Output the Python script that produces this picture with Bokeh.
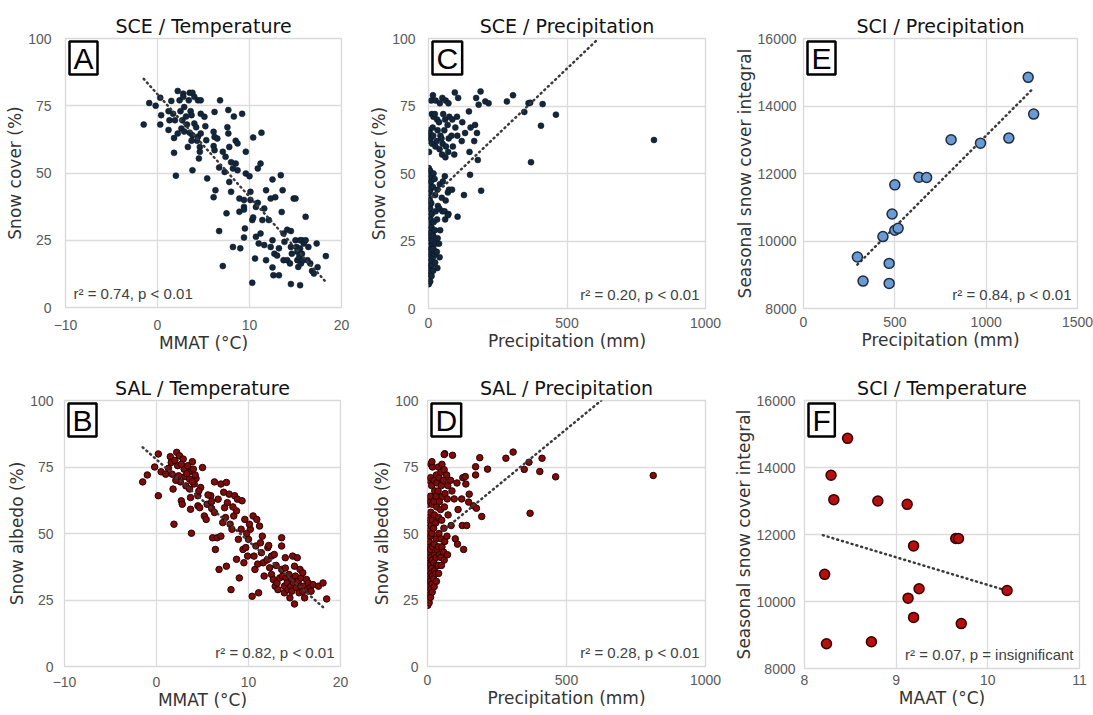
from bokeh.plotting import figure
from bokeh.layouts import row, column
from bokeh.models import Label, FixedTicker, Range1d
from bokeh.embed import file_html
from bokeh.resources import INLINE

# ---------------- DATA ----------------
# Panel A: SCE vs MMAT
mmat_a = [-1.5, -0.9, -0.2, 0.3, 0.4, 0.3, 1.2, 1.3, 1.2, 1.5, 1.7, 1.9, 1.8, 1.8, 2.0, 2.2, 2.4, 2.5, 2.7, 2.6,
          2.8, 2.8, 2.9, 3.1, 3.2, 3.4, 3.5, 3.6, 3.7, 3.5, 3.8, 3.7, 3.8, 3.8, 4.0, 4.4, 4.0, 4.2, 4.4, 4.3,
          4.7, 4.7, 4.7, 4.6, 4.6, 4.5, 5.1, 5.2, 5.3, 5.4, 6.2, 6.1, 6.2, 6.1, 6.2, 6.3, 6.1, 6.8, 6.7, 6.7,
          7.1, 7.3, 7.5, 7.6, 7.7, 7.7, 7.8, 7.8, 8.0, 8.2, 7.1, 8.3, 8.5, 8.7, 8.5, 8.7, 8.9, 8.9, 9.0, 9.2,
          9.4, 9.4, 9.5, 9.4, 9.6, 9.6, 10.0, 10.1, 10.3, 10.4, 10.4, 10.3, 10.6, 10.7, 10.9, 10.9, 11.0, 11.2, 11.2, 11.3,
          11.4, 11.6, 11.6, 11.8, 11.8, 12.1, 12.3, 12.3, 12.5, 12.5, 12.5, 12.6, 12.7, 13.0, 12.8, 13.2, 13.2, 13.4, 13.5, 13.6,
          13.7, 13.7, 13.8, 14.1, 14.1, 14.5, 14.5, 14.4, 14.5, 14.6, 14.8, 15.0, 15.0, 15.1, 15.2, 15.2, 15.3, 15.4, 15.5, 15.5,
          15.6, 15.5, 15.7, 15.7, 15.8, 15.9, 16.1, 16.1, 16.3, 16.4, 16.6, 16.8, 17.0, 17.3, 18.3, 17.4, 6.5, 7.4, 8.0, 10.7,
          10.1, 8.2, 9.4, 2.9, 2.2, 3.3]
sce_a = [68, 76, 75, 78, 71.5, 68, 73, 69.6, 66, 76.8, 72, 69.6, 63, 57.5, 49, 80.5, 77, 73, 69.6, 66.5,
         79.5, 78.3, 74.5, 71, 68, 77, 79.8, 73, 71.5, 65, 64, 62, 51, 79.8, 78.3, 77, 68.4, 67, 63.5, 62,
         77, 72, 64.7, 59.7, 57.9, 55.4, 70.9, 67.4, 62.2, 48, 72.7, 65.3, 63.4, 60, 58.5, 43.6, 41, 77, 52, 28.4,
         57.9, 50.4, 35, 67, 73.4, 64.7, 59.7, 46.7, 43, 22.5, 15.4, 71, 53.5, 51, 62, 61, 40.5, 35.6, 22, 72,
         37.4, 36.4, 29.4, 26, 57.9, 49.8, 48.8, 40, 32.5, 33.5, 63.2, 9.2, 18.2, 26.3, 38.9, 51.7, 23.8, 27.5, 53.5, 65,
         32.5, 36.8, 23.2, 17.6, 43.6, 32.5, 22.5, 40.5, 47.6, 25, 14.9, 12, 20, 19.3, 41, 22, 12, 49.2, 35.5, 43.6,
         17.6, 27.5, 24.4, 28.9, 17.6, 28.4, 22.5, 16.4, 8.7, 20, 40.5, 40.5, 25, 22.5, 20.7, 17.6, 15.1, 18.8, 25, 21.9,
         16.4, 8.3, 25, 20, 17.6, 23.8, 33.7, 25, 17.6, 22.5, 16.4, 13.6, 12.6, 23.8, 19.1, 15, 62.8, 56, 54, 37.4,
         43, 51.7, 40, 65.4, 64.7, 59.7]

# Panel B: SAL vs MMAT
mmat_b = [-1.5, -1, -0.2, 0.2, 0.2, 0.5, 1, 1.5, 1.6, 1.7, 1.8, 1.9, 2.2, 2.3, 2.4, 2.5, 2.6, 2.7, 2.8, 2.9,
          3, 3.1, 3.2, 3.4, 3.5, 3.6, 3.6, 3.7, 3.7, 3.8, 3.9, 4, 4.1, 4.3, 4.5, 4.5, 4.7, 4.8, 5, 5.2,
          5.4, 5.5, 5.9, 6, 6.1, 6.3, 6.4, 6.3, 6.6, 6.7, 6.8, 7, 7, 7.2, 7.4, 7.5, 7.6, 7.6, 7.7, 7.9,
          8, 8.1, 8.2, 8.4, 8.5, 8.7, 8.7, 8.8, 8.9, 9, 9.2, 9.3, 9.4, 9.5, 9.6, 9.7, 9.9, 10, 10.2, 10.4,
          10.5, 10.6, 10.7, 10.8, 10.9, 11.1, 11.2, 11.3, 11.4, 11.6, 11.7, 12.1, 12.3, 12.5, 12.5, 12.7, 12.8, 12.9, 13.1, 13.2,
          13.4, 13.6, 13.6, 13.6, 13.7, 13.9, 13.9, 14, 14.1, 14.2, 14.3, 14.4, 14.5, 14.6, 14.7, 14.7, 14.8, 14.9, 15, 15,
          15.1, 15.2, 15.3, 15.4, 15.5, 15.6, 15.7, 15.7, 15.9, 15.9, 16, 16.1, 16.3, 16.4, 16.5, 16.7, 16.8, 17, 17.6, 18.1,
          18.5, 2.0, 2.7, 3.3, 4.2, 1.3, 2.1, 3.9, 4.6, 5.6, 6.0, 7.3, 8.3, 9.8, 10.1, 11.5, 12.0, 13.0, 14.0, 12.2,
          11.0]
sal_b = [69.4, 72, 75, 79.9, 64.2, 73.2, 72.3, 78.9, 76.7, 72.3, 66.7, 53.5, 80.5, 75.5, 71.7, 79.2, 69.4, 62.3, 61, 78,
         74.2, 71.4, 67.9, 75.5, 73, 70.4, 66.7, 63.5, 59.1, 50.1, 77, 74.2, 68.6, 70.7, 64.2, 60.4, 59.7, 67.3, 74.8, 56.6,
         55.3, 61, 64.2, 59.4, 48.4, 69.4, 44, 57.9, 48.4, 62.9, 36.5, 49, 68.6, 54.1, 59.7, 56, 69.2, 37.7, 61.6, 64.8,
         53.5, 28.9, 51.6, 56.6, 64.2, 58.5, 40.3, 62.9, 47.8, 33.3, 51.6, 62.3, 44, 39, 55.3, 44.7, 41.5, 47.8, 51.6, 26.4,
         56.6, 41.5, 36.5, 45.3, 55.3, 27.7, 52.8, 46.5, 42.8, 39, 34, 44.7, 37.1, 41.5, 34.6, 32.7, 42.1, 30.2, 31.4, 28.9,
         33.3, 48.4, 45.3, 36.5, 34, 27.7, 30.2, 40.9, 33.3, 31.4, 28.9, 34.6, 25.8, 30.2, 32.7, 28.3, 41.5, 31.4, 23.5, 37.7,
         34, 29.6, 40.9, 32.1, 27.7, 36.5, 30.2, 33.3, 28.3, 35.2, 30.2, 25.8, 32.7, 28.9, 31.4, 29.6, 28.3, 30.8, 30.2, 31.4,
         25.4, 77.5, 76, 72.5, 72, 74.5, 70, 69.5, 66, 64.5, 62, 65.5, 60, 50, 53.5, 49, 40, 38, 37, 45.5,
         38.5]

# Panel C: SCE vs precipitation
precip_c = [1, 3, 2, 1, 4, 2, 3, 1, 2, 4, 1, 3, 2, 1, 3, 2, 4, 1, 2, 3, 1, 2, 4, 1, 3,
            6, 8, 5, 7, 6, 9, 5, 7, 8, 6, 5, 7, 9, 6, 8, 5,
            11, 12, 10, 13, 11, 12, 10, 11, 13, 12, 10,
            17, 16, 18, 15, 17, 19, 16, 18, 17, 15, 18, 16,
            24, 22, 25, 23, 26, 24, 22, 25, 23, 26,
            32, 30, 33, 31, 34, 32, 30, 33, 31,
            40, 38, 42, 39, 41, 40, 43, 38, 41,
            50, 48, 52, 49, 51, 47, 53, 50,
            60, 58, 62, 59, 61, 63, 57, 60, 62,
            72, 70, 74, 71, 73, 69, 75, 72,
            85, 88, 83, 86, 95, 97, 93, 105, 107, 103, 104, 120, 122, 128, 132,
            150, 148, 152, 146, 165, 168, 178, 175, 181, 172, 188, 190,
            205, 217, 283, 305, 346, 361, 367, 406, 412, 460, 370, 814, 70]
sce_c = [9, 11, 13, 15, 17, 19, 21, 23, 25, 27, 29, 31, 34, 36, 38, 41, 43, 46, 48, 50, 52, 58, 62, 64, 66,
         10, 12.5, 14, 16, 20, 22, 26, 28, 33, 37, 40, 44, 47, 51, 63, 65,
         12, 16, 18, 24, 30, 35, 39, 49, 61, 72, 77,
         14, 19, 22, 25, 27, 32, 45, 50, 64, 67, 71, 79,
         17, 20, 24, 29, 36, 42, 48, 60, 72, 77,
         15, 21, 26, 33, 38, 44, 62, 66, 70,
         19, 24, 29, 37, 46, 59, 64, 69, 76,
         36, 41, 47, 57, 61, 63, 72, 78,
         33, 36, 40, 49, 56, 60, 66, 70, 77,
         35, 43, 44, 58, 63, 68, 71, 76,
         44, 60, 64, 70, 80, 67, 57, 34, 78, 71, 64, 62, 69, 42, 65,
         49.5, 58, 67, 73, 62, 68, 55, 65, 75.5, 78, 80.4, 43.6,
         76.7, 76, 76.7, 79, 72.8, 76, 76.2, 67.7, 75.7, 71.8, 54.2, 62.4, 34.5]

# Panel D: SAL vs precipitation
precip_d = [1, 3, 2, 1, 4, 2, 3, 1, 2, 4, 1, 3, 2, 1, 3, 2, 4, 1, 2, 3, 1, 2,
            6, 8, 5, 7, 6, 9, 5, 7, 8, 6, 5, 7, 9, 6,
            11, 12, 10, 13, 11, 12, 10, 11, 13, 12, 10, 11, 12,
            17, 16, 18, 15, 17, 19, 16, 18, 17, 15, 18, 16,
            24, 22, 25, 23, 26, 24, 22, 25, 23, 26, 24,
            32, 30, 33, 31, 34, 32, 30, 33, 31, 34, 32,
            40, 38, 42, 39, 41, 40, 43, 38, 41, 39,
            50, 48, 52, 49, 51, 47, 53, 50, 48, 52,
            60, 58, 62, 59, 61, 63, 57, 60, 62,
            72, 70, 74, 71, 73, 69,
            85, 88, 83, 90, 96, 100, 108, 106, 110, 125, 123, 127, 130, 138, 136,
            148, 150, 165, 188, 216, 173, 195, 141, 176, 60, 173, 282, 308, 348, 365, 404, 412, 461, 369, 812]
sal_d = [23, 25, 26.5, 28, 29.5, 31, 32.5, 34, 35.5, 37, 38.5, 40, 42, 44, 46, 48, 50, 52, 54, 56, 61, 63,
         24, 27, 30, 33, 36, 39, 41, 43, 45, 47, 51, 55, 62, 70,
         26, 29, 32, 35, 38, 41, 44, 49, 53, 58, 64, 71, 76,
         28, 31, 34, 37, 40, 45, 50, 55, 61, 68, 75, 77,
         30, 33, 36, 39, 42, 46, 52, 57, 62, 66, 70,
         32, 35, 38, 41, 44, 48, 54, 60, 64, 69, 72,
         35, 38, 42, 45, 50, 56, 62, 66, 71, 75,
         38, 41, 45, 48, 55, 59, 64, 68, 73, 76,
         40, 43, 47, 52, 60, 65, 70, 74, 80,
         42, 49, 57, 63, 68, 72,
         53, 66, 70, 79.4, 63, 48, 46, 69, 59, 53, 63, 71, 44, 68.6, 71.4,
         61.8, 64.8, 60.4, 78.5, 74.2, 75.1, 56.4, 53, 59.5, 79.7, 72, 78.3, 80.6, 74.1, 76.8, 73.3, 78.3, 71.3, 57.6, 71.8]

# Panels E and F: seasonal snow cover integral
precip_e = [295, 326, 435, 469, 469, 485, 500, 500, 518, 632, 674, 808, 969, 1124, 1230, 1260]
sci_e = [9525, 8812, 10130, 9337, 8743, 10800, 11663, 10317, 10376, 11890, 11881, 13000, 12900, 13050, 14850, 13760]
maat_f = [8.47, 8.29, 8.32, 8.80, 9.12, 9.65, 9.68, 9.19, 8.22, 9.25, 9.13, 10.21, 9.19, 9.71, 8.73, 8.24]
sci_f = [14870, 13770, 13040, 13000, 12900, 11880, 11880, 11660, 10810, 10380, 10100, 10330, 9525, 9340, 8800, 8740]

# Trend lines (data units)
trend_a_x, trend_a_y = [-1.5, 18.3], [85, 9.5]
trend_b_x, trend_b_y = [-1.5, 18.2], [82.4, 22]
trend_c_x, trend_c_y = [0, 614], [40, 100]
trend_d_x, trend_d_y = [55, 625], [51, 100]
trend_e_x, trend_e_y = [295, 1250], [9300, 14480]
trend_f_x, trend_f_y = [8.2, 10.2], [11980, 10330]

pct_ticks = [0, 25, 50, 75, 100]
mmat_ticks = [-10, 0, 10, 20]
precip_ticks = [0, 500, 1000]
precip_e_ticks = [0, 500, 1000, 1500]
sci_ticks = [8000, 10000, 12000, 14000, 16000]
maat_ticks = [8, 9, 10, 11]

FONT = "Liberation Sans"
WIDE = "DejaVu Sans"


def panel(title, xs, ys, xr, yr, xticks, yticks, xlabel, ylabel, letter, stat, stat_side,
          fill, edge, size, lw, tx, ty, line_first, fw, fh, bl, br, bt, bb, ystand, xstand):
    p = figure(title=title, frame_width=fw, frame_height=fh,
               x_range=Range1d(*xr), y_range=Range1d(*yr),
               output_backend="svg", toolbar_location=None,
               min_border_left=bl, min_border_right=br, min_border_top=bt, min_border_bottom=bb,
               background_fill_color="white", border_fill_color="white")
    p.title.align = "center"
    p.title.text_font = WIDE
    p.title.text_font_size = "19px"
    p.title.text_font_style = "normal"
    p.title.text_color = "#111111"
    p.title.standoff = 4
    p.outline_line_color = "#d9d9d9"
    p.outline_line_width = 1.3
    p.xaxis.ticker = FixedTicker(ticks=xticks)
    p.yaxis.ticker = FixedTicker(ticks=yticks)
    for g in (p.xgrid, p.ygrid):
        g.grid_line_color = "#dcdcdc"
        g.grid_line_width = 1.3
    for ax in (p.xaxis, p.yaxis):
        ax.axis_line_color = None
        ax.major_tick_line_color = None
        ax.minor_tick_line_color = None
        ax.major_tick_out = 0
        ax.major_tick_in = 0
        ax.minor_tick_out = 0
        ax.minor_tick_in = 0
        ax.major_label_text_font = FONT
        ax.major_label_text_font_size = "14px"
        ax.major_label_text_color = "#595959"
        ax.axis_label_text_font = WIDE
        ax.axis_label_text_font_size = "17px"
        ax.axis_label_text_font_style = "normal"
        ax.axis_label_text_color = "#333333"
    p.xaxis.axis_label = xlabel
    p.yaxis.axis_label = ylabel
    p.xaxis.major_label_standoff = xstand
    p.yaxis.major_label_standoff = ystand
    p.xaxis.axis_label_standoff = 0
    p.yaxis.axis_label_standoff = 0

    def draw_line():
        p.line(tx, ty, line_color="#3a3a3a", line_width=2.5, line_dash="1 4", line_cap="round")

    if line_first:
        draw_line()
    p.scatter(xs, ys, size=size, fill_color=fill, line_color=edge, line_width=lw)
    if not line_first:
        draw_line()

    p.add_layout(Label(x=4, y=fh - 3, x_units="screen", y_units="screen", text=letter,
                       text_font=FONT, text_font_size="30px", text_color="black",
                       text_align="left", text_baseline="top",
                       border_line_color="black", border_line_width=2.5,
                       background_fill_color="white",
                       padding=dict(left=4, right=4, top=0, bottom=0)))
    if stat_side == "left":
        lab = Label(x=8, y=6, x_units="screen", y_units="screen", text=stat, text_align="left")
    else:
        lab = Label(x=fw - 6, y=6, x_units="screen", y_units="screen", text=stat, text_align="right")
    lab.text_baseline = "bottom"
    lab.text_font = FONT
    lab.text_font_size = "15px"
    lab.text_color = "#404040"
    p.add_layout(lab)
    return p


navy_fill, navy_edge = "#13263a", "#0b1622"
maroon_fill, maroon_edge = "#7d0c0c", "#2a0000"

pA = panel("SCE / Temperature", mmat_a, sce_a, (-10, 20), (0, 100), mmat_ticks, pct_ticks,
           "MMAT (°C)", "Snow cover (%)", "A", "r² = 0.74, p < 0.01", "left",
           navy_fill, navy_edge, 6, 0.5, trend_a_x, trend_a_y, False,
           276, 269, 65, 24, 38, 49, 14, 12)
pC = panel("SCE / Precipitation", precip_c, sce_c, (0, 1000), (0, 100), precip_ticks, pct_ticks,
           "Precipitation (mm)", "Snow cover (%)", "C", "r² = 0.20, p < 0.01", "right",
           navy_fill, navy_edge, 6, 0.5, trend_c_x, trend_c_y, False,
           277, 270, 63, 25, 37, 49, 13, 9)
pE = panel("SCI / Precipitation", precip_e, sci_e, (0, 1500), (8000, 16000), precip_e_ticks, sci_ticks,
           "Precipitation (mm)", "Seasonal snow cover integral", "E", "r² = 0.84, p < 0.01", "right",
           "#6b9bd2", "#1c2d42", 10, 1.5, trend_e_x, trend_e_y, True,
           274, 270, 73, 16, 37, 49, 7, 8)
pB = panel("SAL / Temperature", mmat_b, sal_b, (-10, 20), (0, 100), mmat_ticks, pct_ticks,
           "MMAT (°C)", "Snow albedo (%)", "B", "r² = 0.82, p < 0.01", "right",
           maroon_fill, maroon_edge, 6.5, 1, trend_b_x, trend_b_y, False,
           276, 266, 64, 25, 44, 47, 11, 10)
pD = panel("SAL / Precipitation", precip_d, sal_d, (0, 1000), (0, 100), precip_ticks, pct_ticks,
           "Precipitation (mm)", "Snow albedo (%)", "D", "r² = 0.28, p < 0.01", "right",
           maroon_fill, maroon_edge, 6.5, 1, trend_d_x, trend_d_y, False,
           278, 266, 62, 25, 42, 49, 9, 8)
pF = panel("SCI / Temperature", maat_f, sci_f, (8, 11), (8000, 16000), maat_ticks, sci_ticks,
           "MAAT (°C)", "Seasonal snow cover integral", "F", "r² = 0.07, p = insignificant", "right",
           "#b50f0f", "#3a0000", 10, 1.5, trend_f_x, trend_f_y, True,
           275, 268, 73, 15, 41, 48, 9, 6)

layout = column(row(pA, pC, pE), row(pB, pD, pF))
open("out.html", "w").write(file_html(layout, INLINE))
